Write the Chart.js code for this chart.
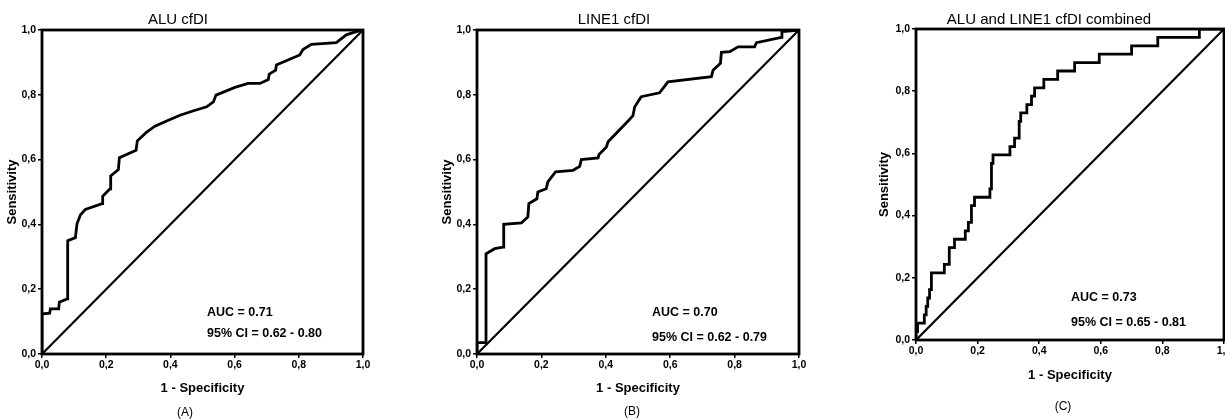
<!DOCTYPE html>
<html><head><meta charset="utf-8">
<script src="https://cdn.jsdelivr.net/npm/chart.js@4.4.1/dist/chart.umd.min.js"></script>
<style>
html,body{margin:0;padding:0;background:#fff;overflow:hidden;width:1225px;height:420px;position:relative;}
.panel{position:absolute;top:0;}
canvas{display:block;}
</style></head><body>
<div class="panel" style="left:0px"><canvas id="cA" width="380" height="420"></canvas></div>
<div class="panel" style="left:435px"><canvas id="cB" width="380" height="420"></canvas></div>
<div class="panel" style="left:872px"><canvas id="cC" width="370" height="420"></canvas></div>
<script>
// ---------- data ----------
const tickValues = [0, 0.2, 0.4, 0.6, 0.8, 1.0];
const tickLabels = ['0,0', '0,2', '0,4', '0,6', '0,8', '1,0'];

const titles = ['ALU cfDI', 'LINE1 cfDI', 'ALU and LINE1 cfDI combined'];
const panelLetters = ['(A)', '(B)', '(C)'];
const aucLabels = ['AUC = 0.71', 'AUC = 0.70', 'AUC = 0.73'];
const ciLabels = ['95% CI = 0.62 - 0.80', '95% CI = 0.62 - 0.79', '95% CI = 0.65 - 0.81'];
const xAxisTitle = '1 - Specificity';
const yAxisTitle = 'Sensitivity';

// Panel A: ALU cfDI ROC
const fprA = [0, 0, 0.024, 0.026, 0.052, 0.054, 0.078, 0.080, 0.104, 0.109, 0.12, 0.135, 0.187, 0.189, 0.212, 0.214, 0.238, 0.241, 0.293, 0.297, 0.325, 0.352, 0.39, 0.43, 0.47, 0.513, 0.534, 0.542, 0.601, 0.642, 0.679, 0.705, 0.708, 0.728, 0.73, 0.803, 0.813, 0.839, 0.917, 0.948, 0.979, 1];
const tprA = [0, 0.124, 0.126, 0.139, 0.139, 0.16, 0.17, 0.35, 0.359, 0.402, 0.43, 0.446, 0.464, 0.487, 0.51, 0.55, 0.569, 0.606, 0.629, 0.658, 0.684, 0.703, 0.72, 0.737, 0.75, 0.763, 0.778, 0.799, 0.823, 0.835, 0.835, 0.847, 0.864, 0.876, 0.892, 0.923, 0.94, 0.956, 0.961, 0.985, 0.995, 1];

// Panel B: LINE1 cfDI ROC
const fprB = [0, 0, 0.028, 0.028, 0.055, 0.081, 0.083, 0.138, 0.158, 0.161, 0.186, 0.189, 0.215, 0.22, 0.244, 0.298, 0.319, 0.324, 0.376, 0.379, 0.402, 0.407, 0.464, 0.484, 0.49, 0.51, 0.567, 0.593, 0.728, 0.733, 0.756, 0.759, 0.785, 0.811, 0.862, 0.868, 0.945, 0.947, 0.976, 1];
const tprB = [0, 0.035, 0.035, 0.309, 0.325, 0.33, 0.40, 0.405, 0.423, 0.464, 0.479, 0.5, 0.51, 0.531, 0.562, 0.567, 0.579, 0.6, 0.605, 0.616, 0.639, 0.655, 0.714, 0.735, 0.763, 0.794, 0.806, 0.84, 0.856, 0.876, 0.897, 0.931, 0.933, 0.948, 0.948, 0.961, 0.977, 0.995, 0.997, 1];

// Panel C: combined ROC (step points: x of each jump, sensitivity after jump)
const fprC = [0, 0, 0.005, 0.027, 0.033, 0.038, 0.044, 0.05, 0.092, 0.108, 0.125, 0.16, 0.17, 0.18, 0.19, 0.24, 0.245, 0.25, 0.305, 0.32, 0.335, 0.34, 0.36, 0.375, 0.385, 0.415, 0.46, 0.515, 0.595, 0.70, 0.785, 0.92, 1];
const tprC = [0, 0.027, 0.054, 0.081, 0.108, 0.135, 0.162, 0.216, 0.243, 0.297, 0.324, 0.351, 0.378, 0.432, 0.459, 0.486, 0.568, 0.595, 0.622, 0.649, 0.703, 0.73, 0.757, 0.784, 0.811, 0.838, 0.865, 0.892, 0.919, 0.946, 0.973, 1, 1];

const diagX = [0, 1];
const diagY = [0, 1];

// ---------- rendering ----------
const FONT = '"Liberation Sans", Arial, Helvetica, sans-serif';
Chart.defaults.font.family = FONT;
Chart.defaults.color = '#000';

const toPoints = (xs, ys) => xs.map((x, i) => ({x: x, y: ys[i]}));

const panelText = {
  id: 'panelText',
  afterDraw(chart, args, o) {
    const ctx = chart.ctx, a = chart.chartArea;
    ctx.save();
    ctx.strokeStyle = '#000';
    ctx.lineWidth = 2.8;
    ctx.strokeRect(a.left, a.top, a.right - a.left, a.bottom - a.top);
    ctx.fillStyle = '#000';
    ctx.textBaseline = 'middle';
    ctx.textAlign = 'center';
    ctx.font = '15px ' + FONT;
    ctx.fillText(o.title, o.titleX, o.titleY);
    ctx.font = '12px ' + FONT;
    ctx.fillText(o.letter, o.letterX, o.letterY);
    ctx.textAlign = 'left';
    ctx.font = 'bold 12.5px ' + FONT;
    ctx.fillText(o.auc, o.aucX, o.aucY1);
    ctx.fillText(o.ci, o.aucX, o.aucY2);
    ctx.restore();
  }
};

function makeChart(id, idx, xs, ys, stepped, lay) {
  const tickCb = (v) => {
    const i = tickValues.findIndex(t => Math.abs(t - v) < 1e-6);
    return i >= 0 ? tickLabels[i] : '';
  };
  const setTicks = (scale) => { scale.ticks = tickValues.map(v => ({value: v})); };
  new Chart(document.getElementById(id), {
    type: 'line',
    data: {
      datasets: [
        {data: toPoints(diagX, diagY), borderColor: '#000', borderWidth: 2.2, pointRadius: 0, tension: 0},
        {data: toPoints(xs, ys), borderColor: '#000', borderWidth: 2.8, pointRadius: 0, tension: 0,
         stepped: stepped ? 'before' : false, borderJoinStyle: 'miter'}
      ]
    },
    options: {
      responsive: false,
      animation: false,
      devicePixelRatio: 1,
      layout: {padding: {top: lay.padTop, right: lay.padRight, left: 0, bottom: 0}},
      plugins: {
        legend: {display: false},
        tooltip: {enabled: false},
        panelText: {
          title: titles[idx], titleX: lay.titleX, titleY: 20,
          letter: panelLetters[idx], letterX: lay.letterX, letterY: lay.letterY,
          auc: aucLabels[idx], ci: ciLabels[idx], aucX: lay.aucX, aucY1: lay.aucY1, aucY2: lay.aucY2
        }
      },
      scales: {
        x: {
          type: 'linear', min: 0, max: 1,
          afterBuildTicks: setTicks,
          afterFit: (s) => { s.height = lay.xHeight; },
          border: {display: false},
          grid: {display: true, drawOnChartArea: false, drawTicks: true, tickLength: 4, color: '#000', lineWidth: 1.5},
          ticks: {callback: tickCb, font: {size: 10.5, weight: 'bold'}, color: '#000', padding: 1, maxRotation: 0, autoSkip: false},
          title: {display: true, text: xAxisTitle, font: {size: 13, weight: 'bold'}, color: '#000', padding: {top: 0, bottom: lay.xTitlePad}}
        },
        y: {
          type: 'linear', min: 0, max: 1,
          afterBuildTicks: setTicks,
          afterFit: (s) => { s.width = lay.yWidth; },
          border: {display: false},
          grid: {display: true, drawOnChartArea: false, drawTicks: true, tickLength: 4, color: '#000', lineWidth: 1.5},
          ticks: {callback: tickCb, font: {size: 10.5, weight: 'bold'}, color: '#000', padding: 2, autoSkip: false},
          title: {display: true, text: yAxisTitle, font: {size: 13, weight: 'bold'}, color: '#000', padding: {top: 5, bottom: 0}}
        }
      }
    },
    plugins: [panelText]
  });
}

makeChart('cA', 0, fprA, tprA, false,
  {padTop: 30, padRight: 17, yWidth: 42, xHeight: 66, xTitlePad: 24,
   titleX: 178, letterX: 185, letterY: 413, aucX: 207, aucY1: 313, aucY2: 334});
makeChart('cB', 1, fprB, tprB, false,
  {padTop: 30, padRight: 16, yWidth: 42, xHeight: 66, xTitlePad: 24,
   titleX: 179, letterX: 197, letterY: 412, aucX: 217, aucY1: 313, aucY2: 338});
makeChart('cC', 2, fprC, tprC, true,
  {padTop: 29, padRight: 18, yWidth: 44, xHeight: 80, xTitlePad: 37,
   titleX: 177, letterX: 191, letterY: 407, aucX: 199, aucY1: 298, aucY2: 323});
</script>
</body></html>
